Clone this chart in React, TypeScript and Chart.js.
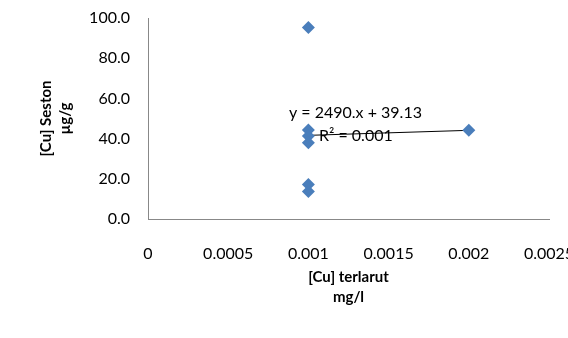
import React, { useEffect, useRef } from "react";
import { Chart, registerables } from "chart.js";

Chart.register(...registerables);

const cuDissolved = [0.001, 0.001, 0.001, 0.001, 0.001, 0.001, 0.002];
const cuSeston = [95.3, 44.3, 41.3, 37.9, 17.2, 13.7, 44.1];
const trendSlope = 2490;
const trendIntercept = 39.13;
const trendRange = [0.001, 0.002];
const equationText = "y = 2490.x + 39.13";
const r2Text = "R\u00B2 = 0.001";
const xTickLabels = ["0", "0.0005", "0.001", "0.0015", "0.002", "0.0025"];
const yTickLabels = ["0.0", "20.0", "40.0", "60.0", "80.0", "100.0"];
const xTitle = ["[Cu] terlarut", "mg/l"];
const yTitle = ["[Cu] Seston", "\u00B5g/g"];

const FONT = "Lato, 'Open Sans', sans-serif";

const equationPlugin = {
  id: "equationLabel",
  afterDatasetsDraw(chart: any) {
    const { ctx, scales } = chart;
    const xs = scales.x;
    const ys = scales.y;
    ctx.save();
    ctx.fillStyle = "#000";
    ctx.font = `16px ${FONT}`;
    ctx.textBaseline = "middle";
    ctx.textAlign = "left";
    ctx.fillText(equationText, xs.getPixelForValue(0.000879), ys.getPixelForValue(52.7));
    ctx.fillText(r2Text, xs.getPixelForValue(0.001066), ys.getPixelForValue(41.6));
    ctx.restore();
  },
};

export default function App() {
  const ref = useRef<HTMLCanvasElement>(null);
  useEffect(() => {
    if (!ref.current) return;
    const scatter = cuDissolved.map((x, i) => ({ x, y: cuSeston[i] }));
    const trend = trendRange.map((x) => ({ x, y: trendSlope * x + trendIntercept }));
    const chart = new Chart(ref.current, {
      type: "scatter",
      data: {
        datasets: [
          {
            type: "line",
            data: trend,
            borderColor: "#000",
            borderWidth: 1,
            pointRadius: 0,
            fill: false,
            order: 2,
          } as any,
          {
            data: scatter,
            pointStyle: "rectRot",
            pointRadius: 6.5,
            backgroundColor: "#4A7EBB",
            borderColor: "#4A7EBB",
            borderWidth: 0,
            order: 1,
          },
        ],
      },
      options: {
        animation: false,
        responsive: false,
        devicePixelRatio: 1,
        layout: { padding: { left: 0, top: 18, right: 51, bottom: 0 } },
        plugins: { legend: { display: false }, tooltip: { enabled: false } },
        scales: {
          x: {
            type: "linear",
            min: 0,
            max: 0.0025,
            grid: { display: false },
            border: { display: true, color: "#888888", width: 1 },
            ticks: {
              stepSize: 0.0005,
              padding: 17,
              color: "#000",
              font: { family: FONT, size: 16 },
              callback: (_v: any, i: number) => xTickLabels[i],
            },
            title: {
              display: true,
              text: xTitle,
              color: "#000",
              font: { family: FONT, size: 15, weight: "bold", lineHeight: "20px" },
              padding: { top: 0, bottom: 31 },
            },
            afterFit: (s: any) => {
              s.height = 119;
            },
          },
          y: {
            type: "linear",
            min: 0,
            max: 100,
            grid: {
              display: true,
              drawOnChartArea: false,
              drawTicks: true,
              tickLength: 18,
              color: "rgba(0,0,0,0)",
            },
            border: { display: true, color: "#888888", width: 1 },
            ticks: {
              stepSize: 20,
              padding: 0,
              color: "#000",
              font: { family: FONT, size: 16 },
              callback: (_v: any, i: number) => yTickLabels[i],
            },
            title: {
              display: true,
              text: yTitle,
              color: "#000",
              font: { family: FONT, size: 15, weight: "bold", lineHeight: "19px" },
              padding: { top: 36.5, bottom: 0 },
            },
            afterFit: (s: any) => {
              s.width = 148;
            },
          },
        },
      },
      plugins: [equationPlugin],
    });
    return () => chart.destroy();
  }, []);
  return (
    <div
      style={{
        position: "fixed",
        left: 0,
        top: 0,
        width: 568,
        height: 338,
        overflow: "hidden",
        background: "#fff",
      }}
    >
      <canvas ref={ref} width={600} height={338} style={{ display: "block" }} />
    </div>
  );
}
